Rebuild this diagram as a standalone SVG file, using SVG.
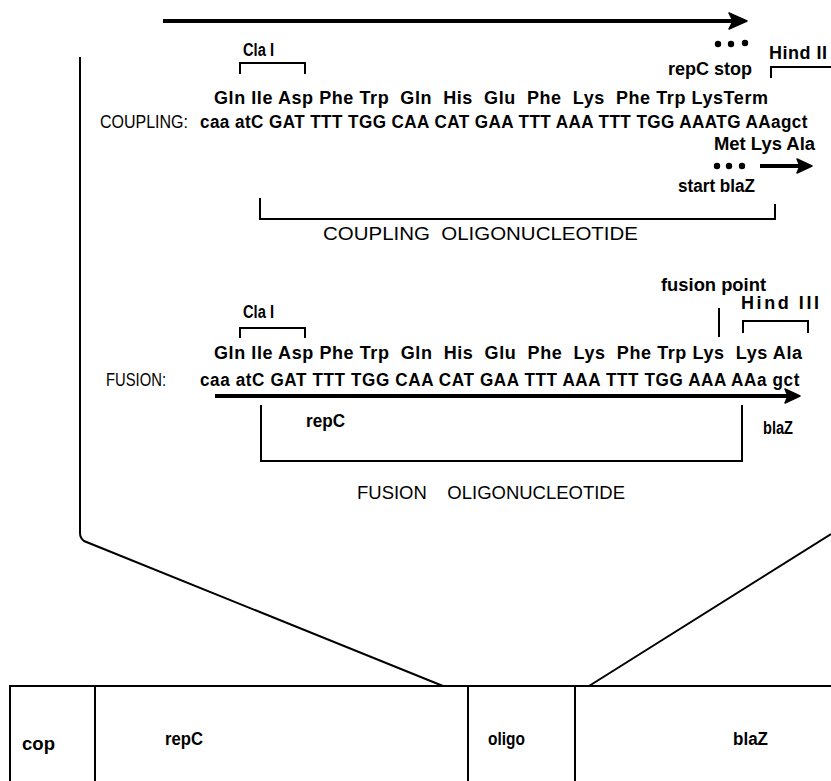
<svg xmlns="http://www.w3.org/2000/svg" width="831" height="781" viewBox="0 0 831 781">
<style>
text{font-family:"Liberation Sans",Arial,sans-serif;fill:#000}
.aa{font-size:18px;font-weight:bold}
.nt{font-size:19px;font-weight:bold}
.lbl{font-size:18px;font-weight:bold}
.cap{font-size:19px}
.ln{stroke:#000;stroke-width:2;fill:none}
.thk{stroke:#000;stroke-width:4;fill:none}
.hd{fill:#000;stroke:#000;stroke-width:1.5;stroke-linejoin:round}
.dot{fill:#000}
</style>
<rect width="831" height="781" fill="#fff"/>
<g id="connectors">
<line class="thk" x1="163" y1="21" x2="735" y2="21"/>
<path class="hd" d="M729,13 L747,21 L729,29 L733,21 Z"/>
<path class="ln" d="M80,57 L80,533 Q80,538 84,541 L443,686"/>
<path class="ln" d="M831,534 L589,686"/>
</g>
<g id="coupling">
<text class="lbl" x="243" y="56" textLength="31" lengthAdjust="spacingAndGlyphs">Cla I</text>
<path class="ln" d="M240,74 V63 H305 V74"/>
<circle class="dot" cx="718" cy="44" r="3.2"/><circle class="dot" cx="731" cy="44" r="3.2"/><circle class="dot" cx="745" cy="43" r="3.2"/>
<text class="lbl" x="668" y="75" textLength="84" lengthAdjust="spacingAndGlyphs">repC stop</text>
<text class="lbl" x="769" y="59" textLength="58" lengthAdjust="spacing">Hind II</text>
<path class="ln" d="M771,78 V67 H831"/>
<text class="aa" x="214" y="104" textLength="554" lengthAdjust="spacing" xml:space="preserve">Gln Ile Asp Phe Trp  Gln  His  Glu  Phe  Lys  Phe Trp LysTerm</text>
<text class="cap" x="100" y="128" textLength="88" lengthAdjust="spacingAndGlyphs">COUPLING:</text>
<text class="nt" transform="scale(0.9,1)" x="222.2" y="128" textLength="675" lengthAdjust="spacing">caa atC GAT TTT TGG CAA CAT GAA TTT AAA TTT TGG AAATG AAagct</text>
<text class="aa" x="714" y="150" textLength="101" lengthAdjust="spacingAndGlyphs">Met Lys Ala</text>
<circle class="dot" cx="717" cy="166" r="3.2"/><circle class="dot" cx="729" cy="166" r="3.2"/><circle class="dot" cx="742" cy="166" r="3.2"/>
<line class="thk" x1="760" y1="166" x2="800" y2="166"/>
<path class="hd" d="M797,159 L812,166 L797,173 L800,166 Z"/>
<text class="lbl" x="678" y="192" textLength="77" lengthAdjust="spacingAndGlyphs">start blaZ</text>
<path class="ln" d="M260,198 V219 H775 V204"/>
<text class="cap" x="323" y="240" textLength="315" lengthAdjust="spacingAndGlyphs" xml:space="preserve">COUPLING  OLIGONUCLEOTIDE</text>
</g>
<g id="fusion">
<text class="lbl" x="661" y="291" textLength="105" lengthAdjust="spacingAndGlyphs">fusion point</text>
<text class="lbl" x="741" y="309" textLength="78" lengthAdjust="spacing">Hind III</text>
<text class="lbl" x="243" y="318" textLength="31" lengthAdjust="spacingAndGlyphs">Cla I</text>
<path class="ln" d="M240,338 V328 H305 V338"/>
<line class="ln" x1="719" y1="308" x2="719" y2="337"/>
<path class="ln" d="M743,333 V321 H808 V333"/>
<text class="aa" x="214" y="359" textLength="588" lengthAdjust="spacing" xml:space="preserve">Gln Ile Asp Phe Trp  Gln  His  Glu  Phe  Lys  Phe Trp Lys  Lys Ala</text>
<text class="cap" x="106" y="386" textLength="60" lengthAdjust="spacingAndGlyphs">FUSION:</text>
<text class="nt" transform="scale(0.9,1)" x="222.2" y="386" textLength="666" lengthAdjust="spacing">caa atC GAT TTT TGG CAA CAT GAA TTT AAA TTT TGG AAA AAa gct</text>
<line class="thk" x1="215" y1="396" x2="788" y2="396"/>
<path class="hd" d="M785,389 L800,396 L785,403 L788,396 Z"/>
<text class="lbl" x="306" y="427" textLength="39" lengthAdjust="spacingAndGlyphs">repC</text>
<text class="lbl" x="763" y="434" textLength="30" lengthAdjust="spacingAndGlyphs">blaZ</text>
<path class="ln" d="M261,405 V461 H742 V405"/>
<text class="cap" x="357" y="499" textLength="268" lengthAdjust="spacingAndGlyphs" xml:space="preserve">FUSION    OLIGONUCLEOTIDE</text>
</g>
<g id="map">
<path class="ln" d="M10,781 V686 H831"/>
<line class="ln" x1="95" y1="686" x2="95" y2="781"/>
<line class="ln" x1="468" y1="686" x2="468" y2="781"/>
<line class="ln" x1="575" y1="686" x2="575" y2="781"/>
<text class="lbl" x="22" y="750" textLength="33" lengthAdjust="spacingAndGlyphs">cop</text>
<text class="lbl" x="165" y="745" textLength="38" lengthAdjust="spacingAndGlyphs">repC</text>
<text class="lbl" x="488" y="745" textLength="37" lengthAdjust="spacingAndGlyphs">oligo</text>
<text class="lbl" x="733" y="745" textLength="35" lengthAdjust="spacingAndGlyphs">blaZ</text>
</g>
</svg>
